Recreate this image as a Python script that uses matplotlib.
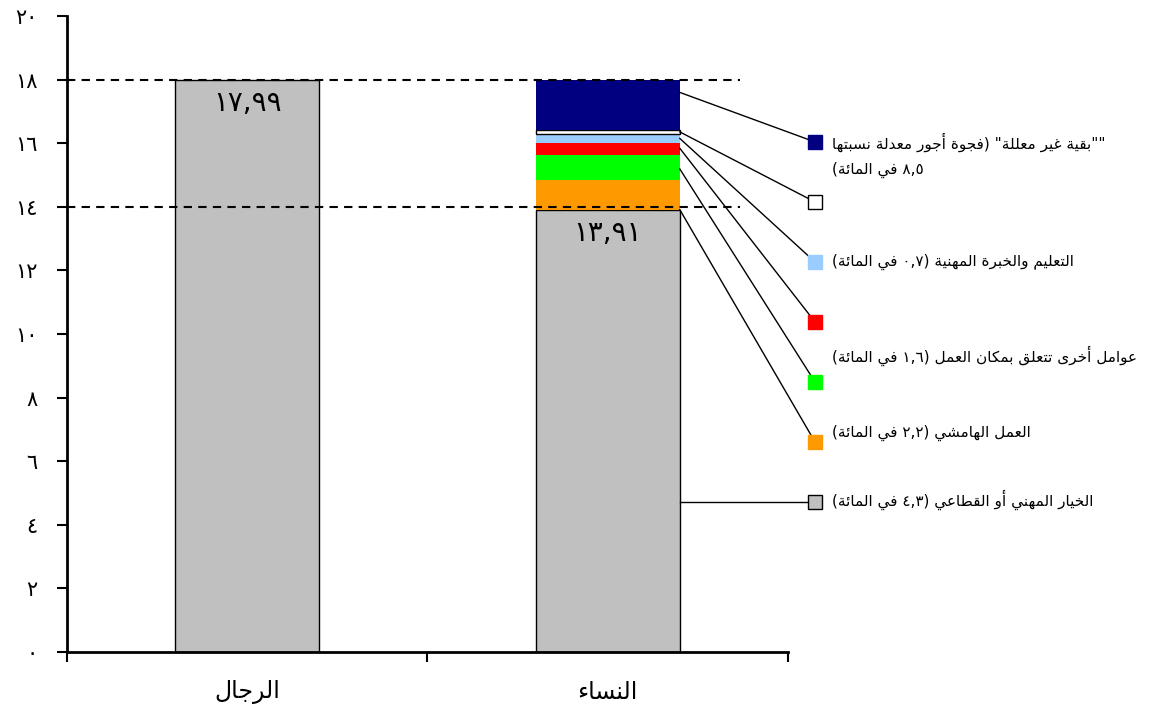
import matplotlib
matplotlib.use("Agg")
import matplotlib.pyplot as plt

plt.rcParams['font.family'] = ['DejaVu Sans']

# Daten
categories = ['الرجال', 'النساء']
bar_totals = [17.99, 13.91]
bar_labels = ['١٧,٩٩', '١٣,٩١']
# women gap segments, bottom to top
seg_values = [0.92, 0.80, 0.38, 0.28, 0.13, 1.57]
seg_colors = ['#FF9900', '#00FF00', '#FF0000', '#99CCFF', '#FFFFFF', '#000080']
yticks = [0, 2, 4, 6, 8, 10, 12, 14, 16, 18, 20]
ytick_labels = ['٠', '٢', '٤', '٦', '٨', '١٠', '١٢', '١٤', '١٦', '١٨', '٢٠']
legend_texts = [
    '""بقية غير معللة" (فجوة أجور معدلة نسبتها',
    '٨,٥ في المائة)',
    'التعليم والخبرة المهنية (٠,٧ في المائة)',
    'عوامل أخرى تتعلق بمكان العمل (١,٦ في المائة)',
    'العمل الهامشي (٢,٢ في المائة)',
    'الخيار المهني أو القطاعي (٤,٣ في المائة)',
]

# --- einfache arabische Formung (matplotlib kann das nicht selbst) ---
DUAL = {'ئ': 0xFE89, 'ب': 0xFE8F, 'ت': 0xFE95, 'ث': 0xFE99, 'ج': 0xFE9D, 'ح': 0xFEA1,
        'خ': 0xFEA5, 'س': 0xFEB1, 'ش': 0xFEB5, 'ص': 0xFEB9, 'ض': 0xFEBD, 'ط': 0xFEC1,
        'ظ': 0xFEC5, 'ع': 0xFEC9, 'غ': 0xFECD, 'ف': 0xFED1, 'ق': 0xFED5, 'ك': 0xFED9,
        'ل': 0xFEDD, 'م': 0xFEE1, 'ن': 0xFEE5, 'ه': 0xFEE9, 'ي': 0xFEF1}
RIGHT = {'آ': 0xFE81, 'أ': 0xFE83, 'ؤ': 0xFE85, 'إ': 0xFE87, 'ا': 0xFE8D, 'ة': 0xFE93,
         'د': 0xFEA9, 'ذ': 0xFEAB, 'ر': 0xFEAD, 'ز': 0xFEAF, 'و': 0xFEED, 'ى': 0xFEEF}
LAMALEF = {'آ': 0xFEF5, 'أ': 0xFEF7, 'إ': 0xFEF9, 'ا': 0xFEFB}
DIGITS = set('0123456789٠١٢٣٤٥٦٧٨٩')


def shape(s):
    chars = []
    i = 0
    while i < len(s):
        if s[i] == 'ل' and i + 1 < len(s) and s[i + 1] in LAMALEF:
            chars.append(('LA', LAMALEF[s[i + 1]]))
            i += 2
        else:
            chars.append((s[i], None))
            i += 1
    out = []
    for k, (c, la) in enumerate(chars):
        prev = chars[k - 1][0] if k > 0 else None
        nxt = chars[k + 1][0] if k + 1 < len(chars) else None
        jp = prev in DUAL
        jn = nxt in DUAL or nxt in RIGHT or nxt == 'LA'
        if c == 'LA':
            out.append(chr(la + (1 if jp else 0)))
        elif c in DUAL:
            b = DUAL[c]
            out.append(chr(b + 3 if jp and jn else b + 1 if jp else b + 2 if jn else b))
        elif c in RIGHT:
            out.append(chr(RIGHT[c] + (1 if jp else 0)))
        elif c == 'ء':
            out.append(chr(0xFE80))
        else:
            out.append(c)
    return ''.join(out)


def ar(text):
    s = shape(text)
    runs = []
    i = 0
    while i < len(s):
        j = i
        if s[i] in DIGITS:
            while j < len(s) and (s[j] in DIGITS or (s[j] in ',.' and j + 1 < len(s) and s[j + 1] in DIGITS)):
                j += 1
            runs.append(s[i:j])
        else:
            while j < len(s) and s[j] not in DIGITS:
                j += 1
            runs.append(s[i:j][::-1].translate(str.maketrans('()', ')(')))
        i = j
    return ''.join(runs[::-1])


fig = plt.figure(figsize=(11.71, 7.15), dpi=100)
ax = fig.add_axes([0.0572, 0.0881, 0.6157, 0.8895])

x = [0.5, 1.5]
w = 0.4
ax.bar(x, bar_totals, width=w, color='#C0C0C0', edgecolor='black', linewidth=1, zorder=2)

bottom = bar_totals[1]
seg_bottoms = []
for v, c in zip(seg_values, seg_colors):
    ec = 'black' if c == '#FFFFFF' else 'none'
    ax.bar(x[1], v, width=w, bottom=bottom, color=c, edgecolor=ec, linewidth=1, zorder=2)
    seg_bottoms.append(bottom)
    bottom += v

for xi, val, lab in zip(x, bar_totals, bar_labels):
    ax.text(xi, val - 0.3, lab, ha='center', va='top', fontsize=20, zorder=4)

ax.axhline(18, xmin=0, xmax=0.933, color='black', linestyle=(0, (4, 3)), linewidth=1.5, zorder=3)
ax.axhline(14, xmin=0, xmax=0.933, color='black', linestyle=(0, (4, 3)), linewidth=1.5, zorder=3)

# legend squares and connectors
sq_x = 2.075
sq_y = [16.04 - 1.887 * i for i in range(7)]
edge = x[1] + w / 2
anchor = [0.0, 0.45, 0.55, 0.5, 0.5, 0.75]
for k, (v, c) in enumerate(zip(seg_values, seg_colors)):
    idx = 5 - k
    y0 = seg_bottoms[k] + anchor[k] * v
    ax.plot([edge, sq_x], [y0, sq_y[idx]], color='black', linewidth=1, clip_on=False)
    ax.plot(sq_x, sq_y[idx], marker='s', markersize=10, color=c,
            markeredgecolor='black' if c == '#FFFFFF' else c, clip_on=False, zorder=5)
ax.plot([edge, sq_x], [sq_y[6], sq_y[6]], color='black', linewidth=1, clip_on=False)
ax.plot(sq_x, sq_y[6], marker='s', markersize=10, color='#C0C0C0', markeredgecolor='black',
        clip_on=False, zorder=5)

tx = 2.122
text_y = [sq_y[0], sq_y[0] - 0.88, sq_y[2], 9.3, 6.9, 4.78]
for t, ty in zip(legend_texts, text_y):
    ax.text(tx, ty, ar(t), ha='left', va='center', fontsize=11, clip_on=False)

ax.set_xlim(0, 2)
ax.set_ylim(0, 20)
ax.set_yticks(yticks)
ax.set_yticklabels(ytick_labels, fontsize=15)
ax.set_xticks([0, 1, 2])
ax.set_xticklabels([])
ax.set_xticks(x, minor=True)
ax.set_xticklabels([ar(c) for c in categories], minor=True, fontsize=17)
ax.tick_params(axis='y', length=7, width=1.5, pad=14)
ax.tick_params(axis='x', which='major', length=7, width=1.5, direction='out')
ax.tick_params(axis='x', which='minor', length=0, pad=20)

for s in ['top', 'right']:
    ax.spines[s].set_visible(False)
for s in ['left', 'bottom']:
    ax.spines[s].set_linewidth(2)

plt.savefig('out.png', dpi=100)
